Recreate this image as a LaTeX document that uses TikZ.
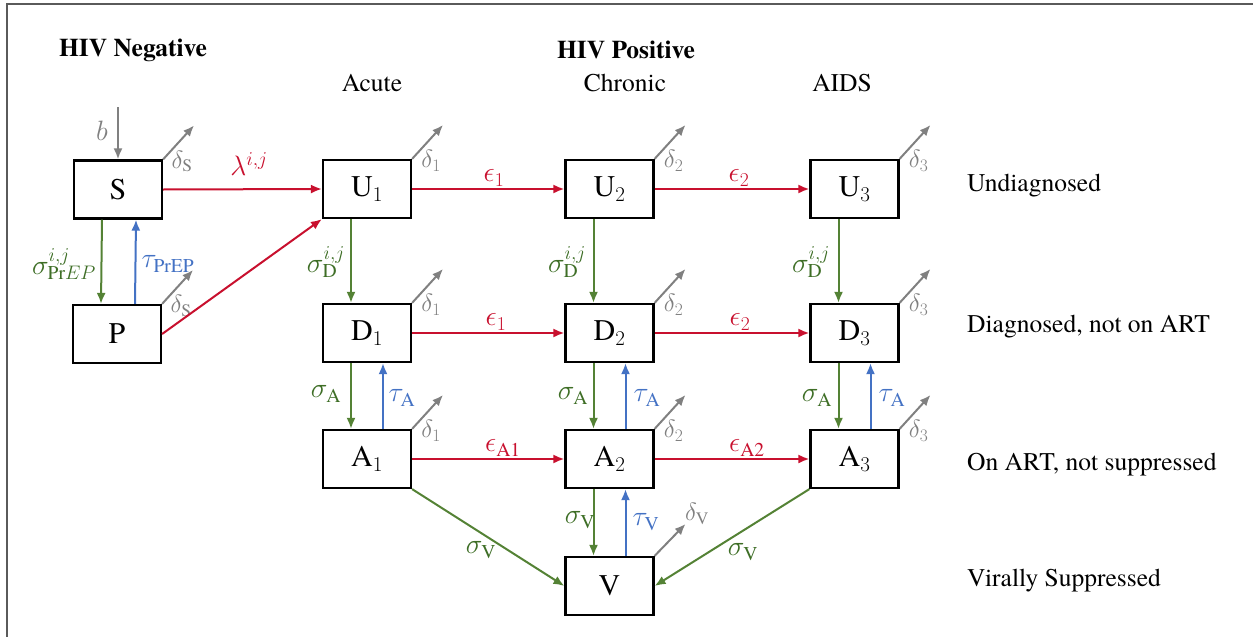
\RequirePackage{fix-cm}
\documentclass[tikz,border=0pt]{standalone}
\usepackage{fontspec}
\setmainfont{texgyretermes}[Extension=.otf,UprightFont=*-regular,BoldFont=*-bold,ItalicFont=*-italic,BoldItalicFont=*-bolditalic]
\usetikzlibrary{arrows.meta}
\definecolor{cred}{RGB}{200,16,46}
\definecolor{cgreen}{RGB}{84,130,53}
\definecolor{cgreenT}{RGB}{62,110,38}
\definecolor{cblue}{RGB}{68,114,196}
\definecolor{cgray}{RGB}{128,128,128}
\definecolor{cframe}{RGB}{90,90,90}
\begin{document}
\begin{tikzpicture}[x=1pt,y=-1pt,
  box/.style={draw,line width=2.2pt,minimum width=88pt,minimum height=58pt,inner sep=0pt,font=\fontsize{30}{34}\selectfont},
  arr/.style={line width=2pt,-{Latex[length=11pt,width=9pt]}},
  ra/.style={arr,color=cred},
  ga/.style={arr,color=cgreen},
  ba/.style={arr,color=cblue},
  gya/.style={arr,color=cgray},
  lab/.style={inner sep=0pt,font=\fontsize{28}{32}\selectfont},
  dlab/.style={inner sep=0pt,text=cgray,font=\fontsize{25}{28}\selectfont},
  txt/.style={inner sep=0pt,font=\fontsize{25.5}{30}\selectfont},
  hdr/.style={inner sep=0pt,font=\bfseries\fontsize{25.5}{30}\selectfont}]
\useasboundingbox (0,0) rectangle (1253,637);
\draw[cframe,line width=1.5pt] (7,637) -- (7,4) -- (1253,4);

% headers
\node[hdr] (hneg) at (133,50) {HIV Negative};
\node[hdr] (hpos) at (626,50) {HIV Positive};
\node[txt] (acute) at (372,83) {Acute};
\node[txt] (chronic) at (625,83) {Chronic};
\node[txt] (aids) at (842,83) {AIDS};
\node[txt,anchor=west] (r1) at (967,186) {Undiagnosed};
\node[txt,anchor=west] (r2) at (967,327) {Diagnosed, not on ART};
\node[txt,anchor=west] (r3) at (967,465) {On ART, not suppressed};
\node[txt,anchor=west] (r4) at (967,581) {Virally Suppressed};

% boxes
\node[box] (S) at (118,189.5) {S};
\node[box] (P) at (117,334) {P};
\node[box] (U1) at (367,189) {$\mathrm{U}_1$};
\node[box] (U2) at (609.5,189) {$\mathrm{U}_2$};
\node[box] (U3) at (854.5,189) {$\mathrm{U}_3$};
\node[box] (D1) at (367,333) {$\mathrm{D}_1$};
\node[box] (D2) at (609.5,333) {$\mathrm{D}_2$};
\node[box] (D3) at (854.5,333) {$\mathrm{D}_3$};
\node[box] (A1) at (367,459) {$\mathrm{A}_1$};
\node[box] (A2) at (609.5,459) {$\mathrm{A}_2$};
\node[box] (A3) at (854.5,459) {$\mathrm{A}_3$};
\node[box] (V) at (609.5,586) {V};

% birth
\coordinate (bsrc) at (118,107);
\draw[gya] (bsrc) -- (S.north);
\node[lab,text=cgray] (bl) at (102,131) {$b$};

% deaths
\foreach \n/\s in {S/\mathrm{S},P/\mathrm{S},U1/1,D1/1,A1/1,U2/2,D2/2,A2/2,U3/3,D3/3,A3/3}{
  \draw[gya] (\n.north east) -- ++(31,-34);
  \node[dlab] (d\n) at ([shift={(19,2)}]\n.north east) {$\delta_{\s}$};
}
\draw[gya] (V.north east) -- ++(31,-32);
\node[dlab] (dV) at (697,514) {$\delta_{\mathrm{V}}$};

% infection
\draw[ra] (S.east) -- (U1.west);
\draw[ra] (P.east) -- (U1.south west);
\node[lab,text=cred] (lam) at (249,164) {$\lambda^{i,j}$};

% PrEP
\draw[ga] ([xshift=-16pt]S.south) -- ([xshift=-16pt]P.north);
\draw[ba] ([xshift=18pt]P.north) -- ([xshift=18pt]S.south);
\node[lab,text=cgreenT] (sP) at (64,264) {$\sigma^{i,j}_{\mathrm{Pr}EP}$};
\node[lab,text=cblue] (tP) at (168,264) {$\tau_{\mathrm{PrEP}}$};

% progression
\draw[ra] (U1) -- (U2); \node[lab,text=cred] (e1u) at (494,178) {$\epsilon_1$};
\draw[ra] (U2) -- (U3); \node[lab,text=cred] (e2u) at (739,178) {$\epsilon_2$};
\draw[ra] (D1) -- (D2); \node[lab,text=cred] (e1d) at (496,322) {$\epsilon_1$};
\draw[ra] (D2) -- (D3); \node[lab,text=cred] (e2d) at (740,322) {$\epsilon_2$};
\draw[ra] (A1) -- (A2); \node[lab,text=cred] (e1a) at (503,448) {$\epsilon_{\mathrm{A1}}$};
\draw[ra] (A2) -- (A3); \node[lab,text=cred] (e2a) at (747,448) {$\epsilon_{\mathrm{A2}}$};

% diagnosis
\foreach \u/\d/\x in {U1/D1/326,U2/D2/567,U3/D3/811}{
  \draw[ga] ([xshift=-16pt]\u.south) -- ([xshift=-16pt]\d.north);
  \node[lab,text=cgreenT] (sD\u) at (\x,262) {$\sigma^{i,j}_{\mathrm{D}}$};
}
% ART
\foreach \d/\a in {D1/A1,D2/A2,D3/A3}{
  \draw[ga] ([xshift=-16pt]\d.south) -- ([xshift=-16pt]\a.north);
  \draw[ba] ([xshift=16pt]\a.north) -- ([xshift=16pt]\d.south);
}
\node[lab,text=cgreenT] (sA1) at (326,394) {$\sigma_{\mathrm{A}}$};
\node[lab,text=cblue] (tA1) at (402,398) {$\tau_{\mathrm{A}}$};
\node[lab,text=cgreenT] (sA2) at (573,396) {$\sigma_{\mathrm{A}}$};
\node[lab,text=cblue] (tA2) at (647,398) {$\tau_{\mathrm{A}}$};
\node[lab,text=cgreenT] (sA3) at (817,398) {$\sigma_{\mathrm{A}}$};
\node[lab,text=cblue] (tA3) at (892,398) {$\tau_{\mathrm{A}}$};

% suppression
\draw[ga] (A1.south east) -- (V.west);
\draw[ga] (A3.south west) -- (V.east);
\draw[ga] ([xshift=-16pt]A2.south) -- ([xshift=-16pt]V.north);
\draw[ba] ([xshift=16pt]V.north) -- ([xshift=16pt]A2.south);
\node[lab,text=cgreenT] (sV1) at (481,550) {$\sigma_{\mathrm{V}}$};
\node[lab,text=cgreenT] (sV3) at (743,552) {$\sigma_{\mathrm{V}}$};
\node[lab,text=cgreenT] (sV2) at (580,520) {$\sigma_{\mathrm{V}}$};
\node[lab,text=cblue] (tV) at (646,522) {$\tau_{\mathrm{V}}$};
\end{tikzpicture}
\end{document}
